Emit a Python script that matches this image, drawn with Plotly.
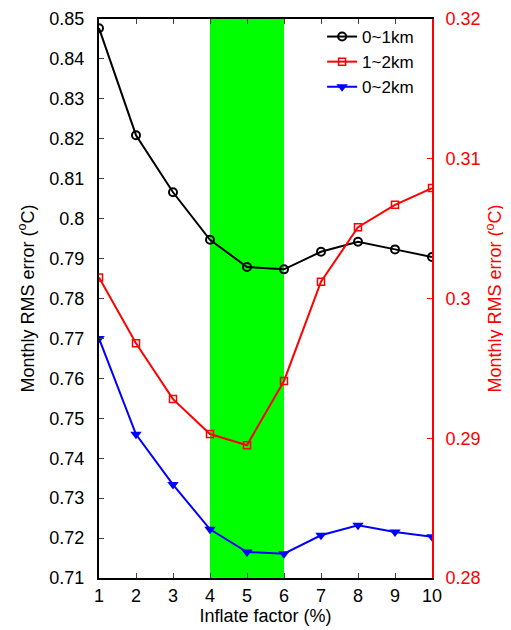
import plotly.graph_objects as go

x_vals = [1, 2, 3, 4, 5, 6, 7, 8, 9, 10]
black_0_1km = [0.8477, 0.8209, 0.8066, 0.7947, 0.7879, 0.7873, 0.7917, 0.7942, 0.7923, 0.7904]
red_1_2km = [0.3015, 0.2968, 0.2928, 0.2903, 0.2895, 0.2941, 0.3012, 0.3051, 0.3067, 0.3079]
blue_0_2km = [0.7700, 0.7460, 0.7334, 0.7222, 0.7165, 0.7161, 0.7207, 0.7232, 0.7215, 0.7203]
band_range = [4, 6]
left_ticks = [0.71, 0.72, 0.73, 0.74, 0.75, 0.76, 0.77, 0.78, 0.79, 0.80, 0.81, 0.82, 0.83, 0.84, 0.85]
left_ticklabels = ["0.71", "0.72", "0.73", "0.74", "0.75", "0.76", "0.77", "0.78", "0.79", "0.8",
                   "0.81", "0.82", "0.83", "0.84", "0.85"]
right_ticks = [0.28, 0.29, 0.30, 0.31, 0.32]
right_ticklabels = ["0.28", "0.29", "0.3", "0.31", "0.32"]

FONT = "Liberation Sans, Arial, Helvetica, sans-serif"

fig = go.Figure()

fig.add_trace(go.Scatter(
    x=x_vals, y=black_0_1km, name="0~1km", mode="lines+markers",
    line=dict(color="black", width=2),
    marker=dict(symbol="circle-open", size=8, color="black", line=dict(width=2)),
    yaxis="y"))
fig.add_trace(go.Scatter(
    x=x_vals, y=red_1_2km, name="1~2km", mode="lines+markers",
    line=dict(color="#ff0000", width=2),
    marker=dict(symbol="square-open", size=7, color="#ff0000", line=dict(width=1.5)),
    yaxis="y2"))
fig.add_trace(go.Scatter(
    x=x_vals, y=blue_0_2km, name="0~2km", mode="lines+markers",
    line=dict(color="#0000ff", width=2),
    marker=dict(symbol="triangle-down", size=10, color="#0000ff"),
    yaxis="y"))

fig.add_shape(type="rect", xref="x", yref="paper", x0=band_range[0], x1=band_range[1],
              y0=0, y1=1, fillcolor="#00ff00", line=dict(width=0), layer="below")

fig.update_layout(
    width=503, height=622,
    margin=dict(l=91, r=79, t=11, b=52, autoexpand=False),
    paper_bgcolor="white", plot_bgcolor="white",
    font=dict(family=FONT, size=18, color="black"),
    showlegend=True,
    legend=dict(x=0.67, y=1.0, xanchor="left", yanchor="top",
                bgcolor="rgba(0,0,0,0)", borderwidth=0,
                font=dict(size=17), itemwidth=30, tracegroupgap=0),
    xaxis=dict(range=[1, 10], tickvals=x_vals, ticks="inside", ticklen=5,
               showline=True, linecolor="black", linewidth=2, mirror="ticks",
               showgrid=False, zeroline=False, automargin=False,
               tickfont=dict(size=18),
               title=dict(text="Inflate factor (%)", font=dict(size=18), standoff=1)),
    yaxis=dict(range=[0.71, 0.85], tickvals=left_ticks, ticktext=left_ticklabels,
               ticks="inside", ticklen=5, showline=True, linecolor="black", linewidth=2,
               ticklabelstandoff=9, automargin=False,
               showgrid=False, zeroline=False, tickfont=dict(size=18),
               title=dict(text="Monthly RMS error (<sup>o</sup>C)", font=dict(size=18), standoff=10)),
    yaxis2=dict(range=[0.28, 0.32], tickvals=right_ticks, ticktext=right_ticklabels,
                overlaying="y", side="right", anchor="x",
                ticks="inside", ticklen=5, tickcolor="#ff0000",
                showline=True, linecolor="#ff0000", linewidth=2,
                ticklabelstandoff=8, automargin=False,
                showgrid=False, zeroline=False,
                tickfont=dict(size=18, color="#ff0000"),
                title=dict(text="Monthly RMS error (<sup>o</sup>C)",
                           font=dict(size=18, color="#ff0000"), standoff=9)),
)

fig.write_html("out.html")
